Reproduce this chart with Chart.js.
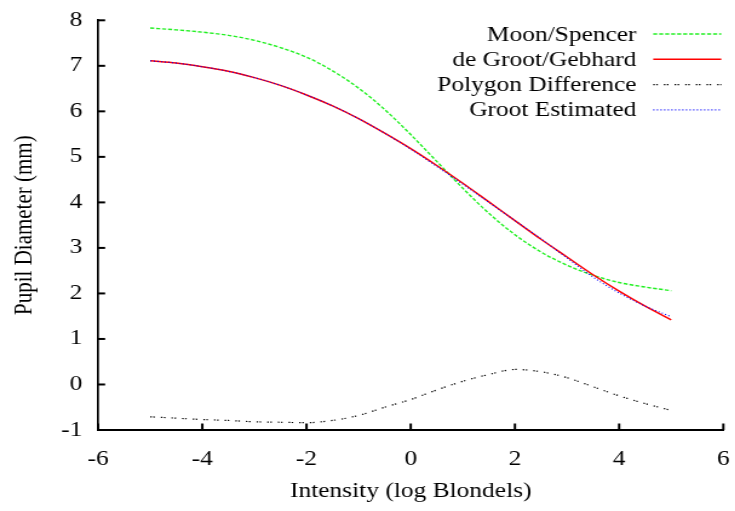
<!DOCTYPE html>
<html lang="en">
<head>
  <meta charset="UTF-8" />
  <title>Pupil Diameter vs Intensity</title>
  <script src="https://cdn.jsdelivr.net/npm/chart.js@4.4.0/dist/chart.umd.min.js"></script>
  <style>
    *{margin:0;padding:0;box-sizing:border-box}
    body{background:#fff;width:735px;height:511px;overflow:hidden}
    /* the original plot is stretched horizontally, so draw narrow and scale */
    #wrap{width:607px;height:511px;transform:scaleX(1.211);transform-origin:0 0}
  </style>
</head>
<body>
<div id="wrap"><canvas id="pupil" width="607" height="511"></canvas></div>
<script>
/* data */
const intensity   = [-5,-4.5,-4,-3.5,-3,-2.5,-2,-1.5,-1,-0.5,0,0.5,1,1.5,2,2.5,3,3.5,4,4.5,5];
const moonSpencer = [7.83,7.79,7.74,7.67,7.56,7.40,7.19,6.89,6.51,6.04,5.49,4.90,4.31,3.76,3.29,2.91,2.62,2.40,2.24,2.14,2.06];
const deGroot     = [7.11,7.06,6.98,6.88,6.74,6.57,6.36,6.12,5.84,5.52,5.18,4.81,4.42,4.01,3.60,3.19,2.80,2.41,2.05,1.72,1.42];
const polygonDiff = [-0.71,-0.74,-0.77,-0.79,-0.82,-0.83,-0.84,-0.79,-0.68,-0.50,-0.33,-0.12,0.07,0.22,0.33,0.28,0.15,-0.05,-0.25,-0.42,-0.57];
const grootEst    = [7.11,7.06,6.98,6.88,6.74,6.57,6.36,6.12,5.84,5.52,5.17,4.79,4.40,4.00,3.60,3.20,2.78,2.36,2.01,1.72,1.49];
const xTicks = [-6,-4,-2,0,2,4,6];
const yTicks = [-1,0,1,2,3,4,5,6,7,8];

const pts = ys => intensity.map((x,i)=>({x,y:ys[i]}));
const font = {family:"'Liberation Serif', 'Times New Roman', serif", size:21};
Chart.defaults.font = font;
Chart.defaults.color = '#000';

/* inward tick marks, like gnuplot */
const inTicks = {id:'inTicks',afterDraw(c){const {ctx,chartArea:a,scales:{x,y}}=c;ctx.save();ctx.strokeStyle='#000';
  ctx.lineWidth=2;xTicks.forEach(v=>{const p=x.getPixelForValue(v);ctx.beginPath();ctx.moveTo(p,a.bottom);ctx.lineTo(p,a.bottom-6.5);ctx.stroke()});
  ctx.lineWidth=2;yTicks.forEach(v=>{const p=y.getPixelForValue(v);ctx.beginPath();ctx.moveTo(a.left,p);ctx.lineTo(a.left+5.8,p);ctx.stroke()});
  ctx.restore()}};

/* legend: text right aligned, line sample on the right */
const keyBox = {id:'keyBox',afterDraw(c){const ctx=c.ctx;ctx.save();ctx.font=`${font.size}px ${font.family}`;ctx.textAlign='right';ctx.textBaseline='middle';
  c.data.datasets.forEach((d,i)=>{const yy=34+i*25.3;ctx.fillStyle='#000';ctx.fillText(d.label,525.6,yy+1);
    ctx.strokeStyle=d.borderColor;ctx.lineWidth=d.borderWidth;ctx.setLineDash(d.borderDash||[]);ctx.beginPath();ctx.moveTo(539.4,yy);ctx.lineTo(595.6,yy);ctx.stroke()});
  ctx.restore()}};

new Chart('pupil',{
  type:'line',
  data:{datasets:[
    {label:'Moon/Spencer',data:pts(moonSpencer),borderColor:'#22f022',borderWidth:1.4,borderDash:[3.3,1.65],order:4},
    {label:'de Groot/Gebhard',data:pts(deGroot),borderColor:'#ff0000',borderWidth:1.5,order:3},
    {label:'Polygon Difference',data:pts(polygonDiff),borderColor:'#000',borderWidth:1.2,borderDash:[1.3,1.2,1.3,5],order:2},
    {label:'Groot Estimated',data:pts(grootEst),borderColor:'#0000ff',borderWidth:1.1,borderDash:[1,2],order:1}
  ]},
  options:{
    responsive:false,animation:false,
    layout:{padding:{top:20.3,right:9.7,left:0,bottom:0}},
    elements:{point:{radius:0},line:{cubicInterpolationMode:'monotone',fill:false}},
    plugins:{legend:{display:false},tooltip:{enabled:false}},
    scales:{
      x:{type:'linear',min:-6,max:6,afterFit:s=>{s.height=81;s.paddingLeft=0;s.paddingRight=0},
        afterBuildTicks:s=>{s.ticks=xTicks.map(v=>({value:v}))},
        grid:{display:false,drawTicks:false},border:{display:true,color:'#000',width:2},
        ticks:{padding:16.4,maxRotation:0,autoSkip:false},
        title:{display:true,text:'Intensity (log Blondels)',padding:{top:0,bottom:7}}},
      y:{min:-1,max:8,afterFit:s=>{s.width=81;s.paddingTop=0;s.paddingBottom=0},
        afterBuildTicks:s=>{s.ticks=yTicks.map(v=>({value:v}))},
        grid:{display:false,drawTicks:false},border:{display:true,color:'#000',width:1.7},
        ticks:{padding:13,autoSkip:false},
        title:{display:true,text:'Pupil Diameter (mm)',padding:{top:8,bottom:0}}}
    }
  },
  plugins:[inTicks,keyBox]
});
</script>
</body>
</html>
